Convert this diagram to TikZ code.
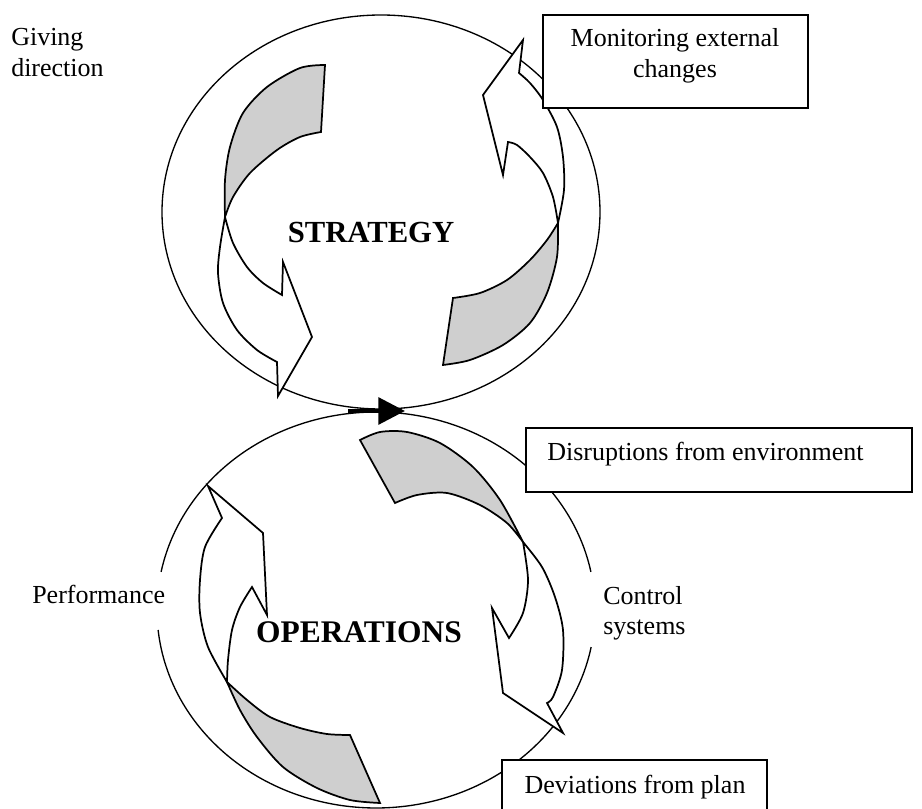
\documentclass[tikz,border=0pt]{standalone}
\usepackage{fontspec}
\setmainfont{Liberation Serif}
\usetikzlibrary{arrows.meta}
\begin{document}
\begin{tikzpicture}[x=0.75pt,y=-0.75pt,
  ring/.style={line width=1pt},
  band/.style={fill=black!19, draw, line width=1.3pt, line join=miter},
  blade/.style={fill=white, draw, line width=1.3pt, line join=miter},
  labelbox/.style={draw, fill=white, line width=1.2pt},
  lbl/.style={font=\fontsize{19.5}{22.8}\selectfont, inner sep=0pt},
  title/.style={font=\fontsize{23}{27}\selectfont\bfseries, inner sep=0pt},
  handoff/.style={line width=3pt, -{Triangle[length=20pt,width=20pt]}},
]
\clip (0,0) rectangle (922,809);
\fill[white] (0,0) rectangle (922,809);

% ---- strategy cycle ----
\draw[ring] (381,212) ellipse [x radius=219, y radius=197];

% left curved arrow: shaded back face, then white front with head
\draw[band] plot[smooth] coordinates {(325,65) (300,68) (267,87) (243,113) (230,147) (225,180) (225,217)}
  -- plot[smooth] coordinates {(225,217) (233,197) (250,173) (277,150) (300,137) (321,132)} -- cycle;
\draw[blade] plot[smooth] coordinates {(225,217) (220,247) (218,273) (223,303) (237,330) (257,350) (277,362)}
  -- (278,396) -- (312,337) -- (283,262) -- (282,295)
  -- plot[smooth] coordinates {(282,295) (263,283) (247,267) (233,243) (225,217)} -- cycle;

% right curved arrow
\draw[band] plot[smooth] coordinates {(443,365) (470,360) (503,345) (530,323) (547,293) (557,257) (558,223)}
  -- plot[smooth] coordinates {(558,223) (547,240) (530,260) (507,280) (480,293) (453,298)} -- cycle;
\draw[blade] plot[smooth] coordinates {(558,223) (564,190) (563,157) (557,127) (543,100) (530,83) (519,73)}
  -- (523,40) -- (483,95) -- (503,175) -- (508,142)
  -- plot[smooth] coordinates {(508,142) (517,145) (530,157) (543,173) (553,197) (558,223)} -- cycle;

% ---- operations cycle (open at both sides for the labels) ----
\draw[ring] plot[domain=10.8:174.2, samples=140] ({376+219*cos(\x)},{610+198*sin(\x)});
\draw[ring] plot[domain=191.1:348.9, samples=140] ({376+219*cos(\x)},{610+198*sin(\x)});

% right curved arrow
\draw[band] plot[smooth] coordinates {(360,440) (380,432) (407,432) (440,443) (473,467) (500,500) (523,542)}
  -- plot[smooth] coordinates {(523,542) (507,523) (480,505) (447,493) (417,495) (395,503)} -- cycle;
\draw[blade] plot[smooth] coordinates {(523,542) (542,567) (555,597) (563,630) (562,670) (553,697) (547,703)}
  -- (563,733) -- (503,693) -- (492,608) -- (509,638)
  -- plot[smooth] coordinates {(509,638) (523,613) (528,580) (523,542)} -- cycle;

% left curved arrow
\draw[band] plot[smooth] coordinates {(227,682) (240,710) (257,737) (283,767) (317,788) (350,800) (380,803)}
  -- (350,735)
  -- plot[smooth] coordinates {(350,735) (327,734) (300,728) (270,717) (247,700) (227,682)} -- cycle;
\draw[blade] plot[smooth] coordinates {(227,682) (208,647) (200,613) (200,580) (205,547) (222,518)}
  -- (208,486) -- (263,533) -- (267,615) -- (252,587)
  -- plot[smooth] coordinates {(252,587) (240,607) (232,630) (228,660) (227,682)} -- cycle;

% ---- link from strategy to operations ----
\coordinate (handofftail) at (348,411);
\coordinate (handoffhead) at (405,411);
\draw[handoff] (handofftail) -- (handoffhead);

% ---- boxed labels ----
\draw[labelbox] (543,15) rectangle (808,108);
\draw[labelbox] (526,428) rectangle (912,492);
\draw[labelbox] (502,760) rectangle (767,830);

% ---- texts ----
\node[lbl, anchor=base west] (giving) at (11,46) {\begin{tabular}[t]{@{}l@{}}Giving\\direction\end{tabular}};
\node[lbl, anchor=base] (monitor) at (675,47) {\begin{tabular}[t]{@{}c@{}}Monitoring external\\changes\end{tabular}};
\node[title, anchor=base] (strategy) at (371,243) {STRATEGY};
\node[lbl, anchor=base west] (disrupt) at (547,460) {Disruptions from environment};
\node[lbl, anchor=base west] (perf) at (32,603) {Performance};
\node[lbl, anchor=base west] (control) at (603,604) {\begin{tabular}[t]{@{}l@{}}Control\\systems\end{tabular}};
\node[title, anchor=base, font=\fontsize{23.6}{27}\selectfont\bfseries] (operations) at (359,642) {OPERATIONS};
\node[lbl, anchor=base] (deviate) at (635,793) {Deviations from plan};
\end{tikzpicture}
\end{document}
